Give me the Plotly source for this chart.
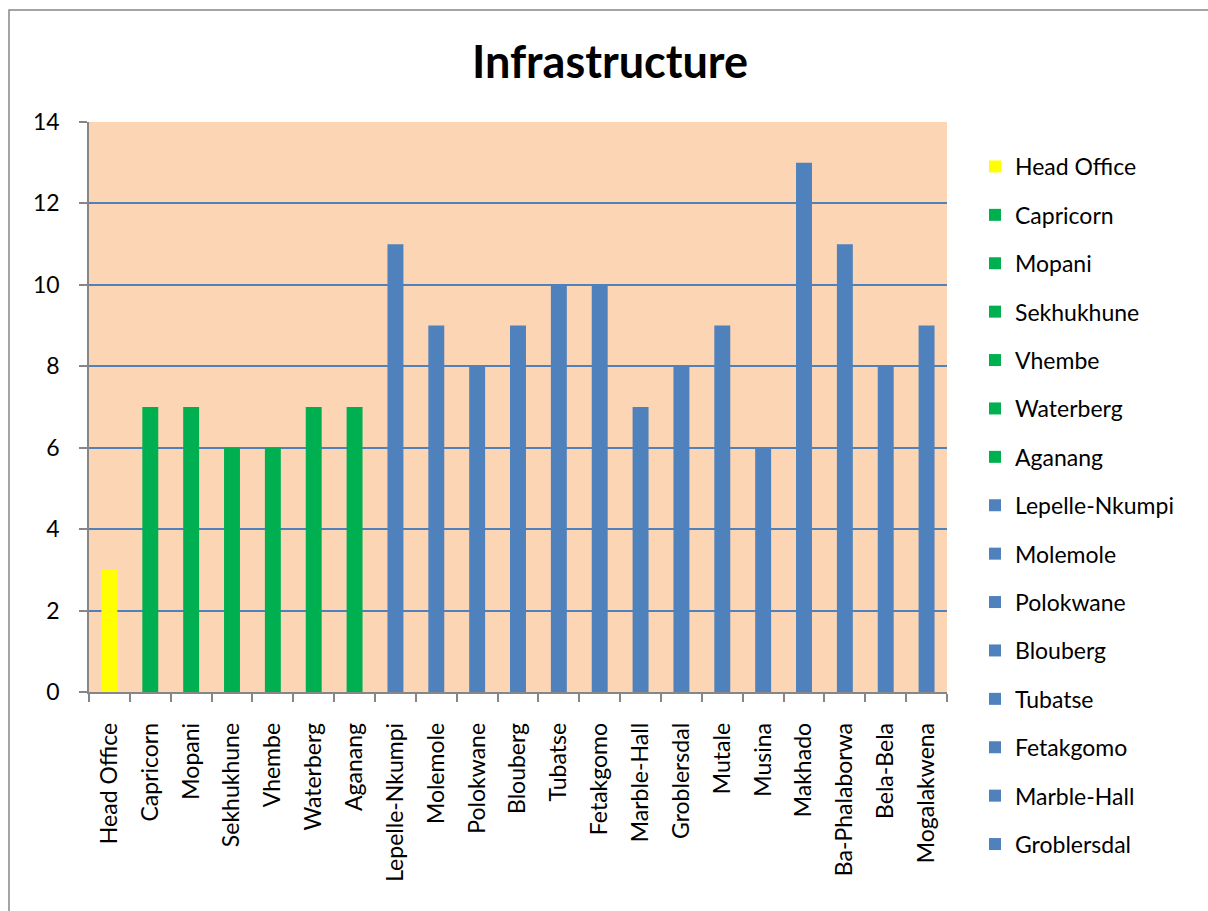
import plotly.graph_objects as go

categories = ["Head Office", "Capricorn", "Mopani", "Sekhukhune", "Vhembe", "Waterberg", "Aganang",
              "Lepelle-Nkumpi", "Molemole", "Polokwane", "Blouberg", "Tubatse", "Fetakgomo",
              "Marble-Hall", "Groblersdal", "Mutale", "Musina", "Makhado", "Ba-Phalaborwa",
              "Bela-Bela", "Mogalakwena"]
values = [3, 7, 7, 6, 6, 7, 7, 11, 9, 8, 9, 10, 10, 7, 8, 9, 6, 13, 11, 8, 9]
groups = ["head"] + ["district"] * 6 + ["municipality"] * 14
legend_count = 15

palette = {"head": "#FFFF00", "district": "#00B050", "municipality": "#4F81BD"}
FONT = "Lato, Open Sans, sans-serif"

fig = go.Figure()
for i, (c, v, g) in enumerate(zip(categories, values, groups)):
    fig.add_trace(go.Bar(
        x=[c], y=[v], name=c,
        marker=dict(color=palette[g], line=dict(width=0)),
        showlegend=i < legend_count,
        legendgroup=c,
    ))

L, R, T, B = 89, 261, 122, 219
W, H = 1208, 911
pw, ph = W - L - R, H - T - B

def px_x(x):
    return (x - L) / pw

def px_y(y):
    return 1 - (y - T) / ph

fig.update_layout(
    width=W, height=H,
    margin=dict(l=L, r=R, t=T, b=B),
    paper_bgcolor="white",
    plot_bgcolor="#FCD5B5",
    barmode="overlay",
    bargap=0.61,
    font=dict(family=FONT, size=23, color="#000000"),
    title=dict(text="<b>Infrastructure</b>", xref="container", x=610 / W, xanchor="center",
               yref="container", y=1 - 62 / H, yanchor="middle",
               font=dict(family=FONT, size=45, color="#000000")),
    legend=dict(x=px_x(975), xanchor="left", y=px_y(145), yanchor="top",
                font=dict(family=FONT, size=23, color="#000000"),
                tracegroupgap=15.5, bgcolor="rgba(0,0,0,0)",
                itemwidth=30, maxheight=900),
    xaxis=dict(type="category", tickangle=-90, showgrid=False,
               showline=True, linecolor="#868686", linewidth=1.5,
               ticks="outside", tickson="boundaries", ticklen=8, tickcolor="#868686",
               tickwidth=1.5, ticklabelstandoff=20,
               tickfont=dict(family=FONT, size=23, color="#000000")),
    yaxis=dict(range=[0, 14], dtick=2, showgrid=True, gridcolor="#4F81BD", gridwidth=1.5,
               showline=True, linecolor="#868686", linewidth=1.5,
               ticks="outside", ticklen=8, tickcolor="#868686", tickwidth=1.5,
               ticklabelstandoff=15, zeroline=False,
               tickfont=dict(family=FONT, size=23, color="#000000")),
    shapes=[dict(type="rect", xref="paper", yref="paper",
                 x0=px_x(9), x1=px_x(1215), y0=px_y(918), y1=px_y(10),
                 line=dict(color="#868686", width=1.5), fillcolor="rgba(0,0,0,0)",
                 layer="below")],
)

fig.write_html("out.html")
